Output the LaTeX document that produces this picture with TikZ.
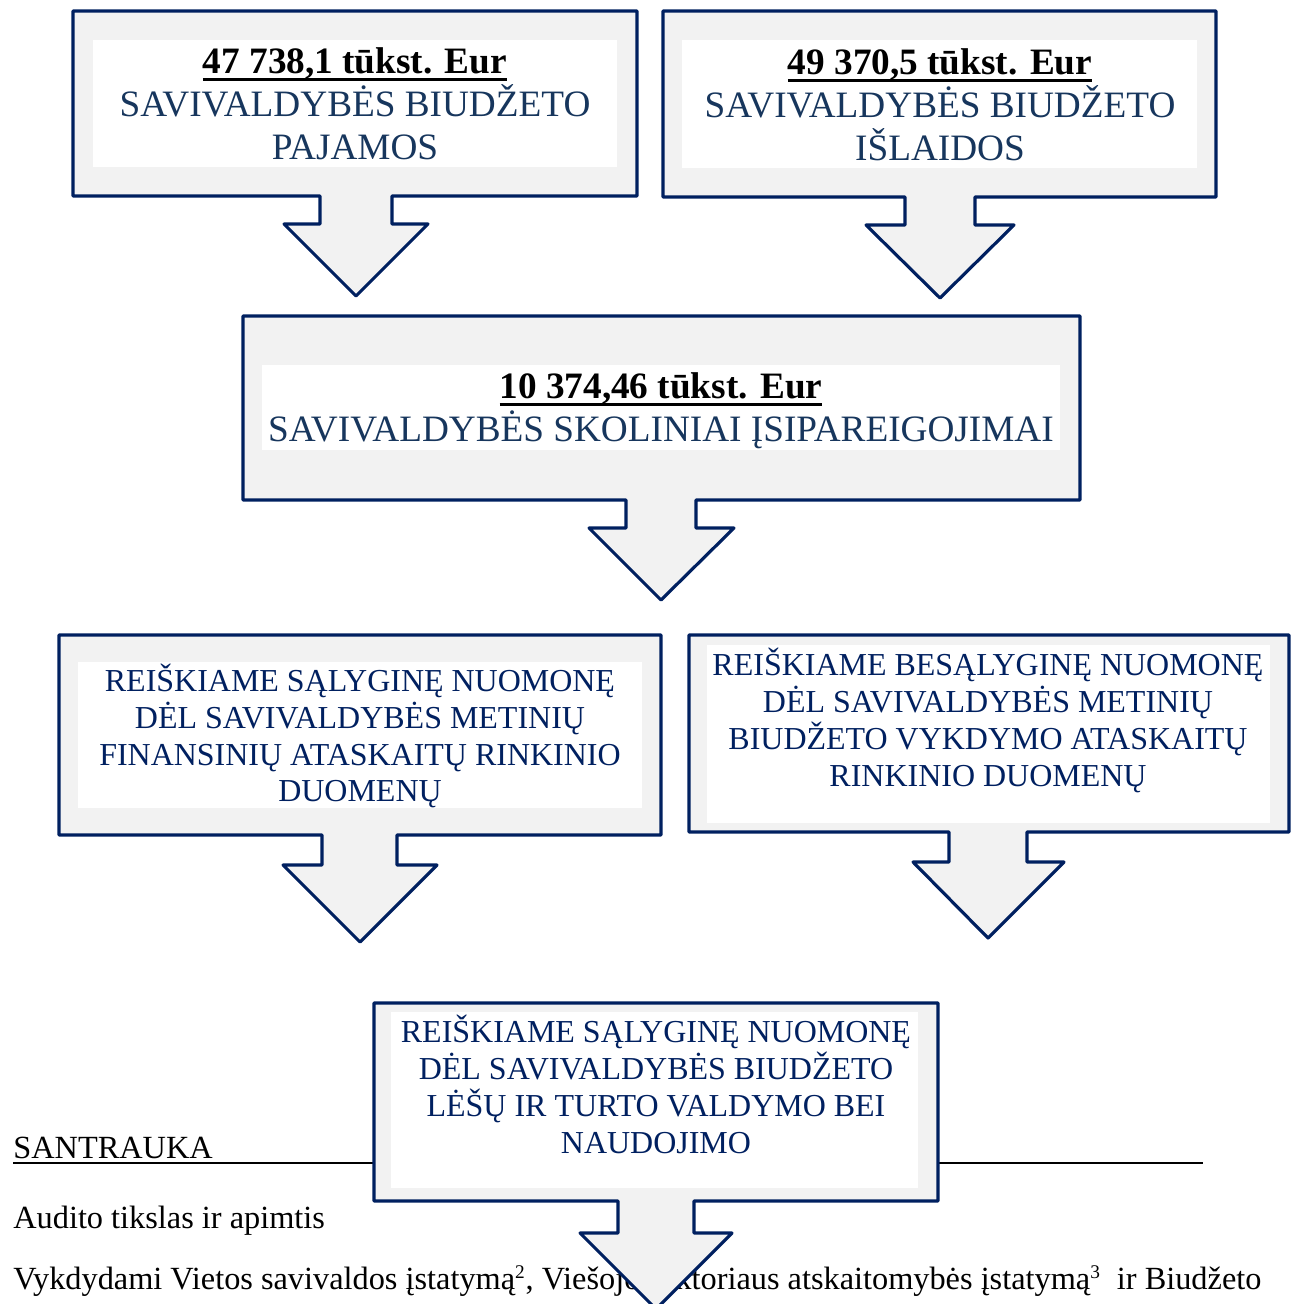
\documentclass[tikz,border=0pt]{standalone}
\usepackage{fontspec}
\setmainfont{Liberation Serif}
\usepackage{tikz}

\definecolor{navy}{HTML}{002060}
\definecolor{slate}{HTML}{17365D}
\definecolor{calloutfill}{HTML}{F2F2F2}
% thick underline for the amounts
\newcommand\amountul[1]{\leavevmode\setbox0\hbox{#1}\dp0=0pt
  \vtop{\box0\kern2.6pt\hrule height 1.3pt}}
\newcommand\fnmark[1]{\textsuperscript{\fontsize{11}{12}\selectfont #1}}

\begin{document}
\begin{tikzpicture}[
  x=0.02cm, y=-0.02cm,
  % ---- Callout shapes (box with a down arrow) ----
  callout/.style={draw=navy, fill=calloutfill, line width=1.8pt, line join=round},
  panel/.style={fill=white},
  % ---- Text styles ----
  sumtxt/.style ={align=center, text=slate, inner sep=0pt,
    font=\fontsize{21.2}{24.4}\selectfont},
  opintxt/.style={align=center, text=navy, inner sep=0pt,
    font=\fontsize{18.2}{21}\selectfont},
  bodytxt/.style={anchor=base west, inner sep=0pt,
    font=\fontsize{18.4}{21}\selectfont},
]
\clip (0,0) rectangle (1295,1304);

% ---- Page text behind the last callout ----
\node[bodytxt] (santrauka) at (13,1158) {SANTRAUKA};
\draw[line width=0.8pt] (13,1163) -- (1203,1163);
\node[bodytxt] (tikslas) at (13,1228) {Audito tikslas ir apimtis};
\node[bodytxt] (vykdydami) at (13,1289)
  {Vykdydami Vietos savivaldos įstatymą\fnmark{2}, Viešojo sektoriaus atskaitomybės įstatymą\fnmark{3}\ \ ir Biudžeto};

% ---- Revenue ----
\draw[callout] (73,196) |- (637,11) -- (637,196) -- (392,196) -- (392,224)
  -- (428,224) -- (356,296) -- (284,224) -- (320,224) -- (320,196) -- cycle;
\fill[panel] (93,40) rectangle (617,167);
\node[sumtxt] (pajamos) at (355,104)
  {\textcolor{black}{\amountul{\textbf{47 738,1 tūkst. Eur}}}\\
   SAVIVALDYBĖS BIUDŽETO\\PAJAMOS};

% ---- Expenditure ----
\draw[callout] (663,197) |- (1216,11) -- (1216,197) -- (975,197) -- (975,225)
  -- (1014,225) -- (940,298) -- (866,225) -- (905,225) -- (905,197) -- cycle;
\fill[panel] (682,40) rectangle (1197,168);
\node[sumtxt] (islaidos) at (940,105)
  {\textcolor{black}{\amountul{\textbf{49 370,5 tūkst. Eur}}}\\
   SAVIVALDYBĖS BIUDŽETO\\IŠLAIDOS};

% ---- Debt obligations ----
\draw[callout] (243,500) |- (1080,316) -- (1080,500) -- (696,500) -- (696,528)
  -- (734,528) -- (661,600) -- (589,528) -- (626,528) -- (626,500) -- cycle;
\fill[panel] (262,365) rectangle (1060,450);
\node[sumtxt] (skolos) at (661,411)
  {\textcolor{black}{\amountul{\textbf{10 374,46 tūkst. Eur}}}\\
   SAVIVALDYBĖS SKOLINIAI ĮSIPAREIGOJIMAI};

% ---- Opinion: financial statements ----
\draw[callout] (59,835) |- (661,635) -- (661,835) -- (397,835) -- (397,865)
  -- (437,865) -- (360,942) -- (283,865) -- (322,865) -- (322,835) -- cycle;
\fill[panel] (78,662) rectangle (642,808);
\node[opintxt] (salygine) at (360,736)
  {REIŠKIAME SĄLYGINĘ NUOMONĘ\\DĖL SAVIVALDYBĖS METINIŲ\\
   FINANSINIŲ ATASKAITŲ RINKINIO\\DUOMENŲ};

% ---- Opinion: budget execution ----
\draw[callout] (689,832) |- (1289,635) -- (1289,832) -- (1027,832) -- (1027,862)
  -- (1064,862) -- (988,938) -- (913,862) -- (949,862) -- (949,832) -- cycle;
\fill[panel] (707,645) rectangle (1270,823);
\node[opintxt, anchor=north] (besalygine) at (988,648)
  {REIŠKIAME BESĄLYGINĘ NUOMONĘ\\DĖL SAVIVALDYBĖS METINIŲ\\
   BIUDŽETO VYKDYMO ATASKAITŲ\\RINKINIO DUOMENŲ};

% ---- Opinion: funds and assets ----
\draw[callout] (374,1201) |- (938,1003) -- (938,1201) -- (694,1201) -- (694,1233)
  -- (732,1233) -- (656,1309) -- (580,1233) -- (618,1233) -- (618,1201) -- cycle;
\fill[panel] (391,1012) rectangle (918,1188);
\node[opintxt, anchor=north] (turtas) at (656,1015)
  {REIŠKIAME SĄLYGINĘ NUOMONĘ\\DĖL SAVIVALDYBĖS BIUDŽETO\\
   LĖŠŲ IR TURTO VALDYMO BEI\\NAUDOJIMO};
\end{tikzpicture}
\end{document}
